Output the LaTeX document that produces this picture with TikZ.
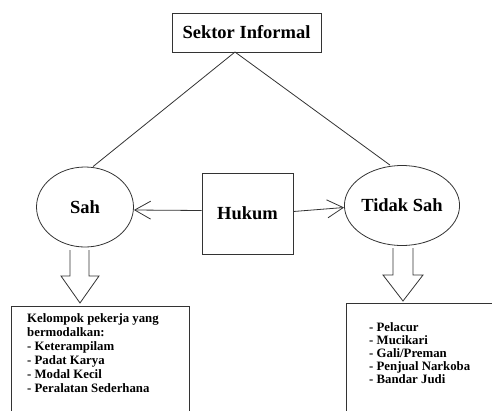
\documentclass[tikz,border=0pt]{standalone}
\usepackage{fontspec}
\setmainfont{Liberation Serif}
\usetikzlibrary{shapes.geometric,arrows.meta}
\begin{document}
\begin{tikzpicture}[x=1pt,y=-1pt,
  line/.style={draw=black!80,line width=0.8pt},
  boxnode/.style={line,rectangle,inner sep=0pt},
  ellnode/.style={line,ellipse,inner sep=0pt,minimum width=97pt,minimum height=80pt,font=\fontsize{18.5}{20}\selectfont\bfseries},
  bigtext/.style={font=\fontsize{18.5}{20}\selectfont\bfseries},
  listtext/.style={font=\fontsize{12.8}{14}\selectfont\bfseries,anchor=base west,inner sep=0pt},
  barb/.style={-{Straight Barb[length=16pt,width=18pt,line width=0.8pt]}}]
\useasboundingbox (0,0) rectangle (492,410);
% top box
\node[boxnode,minimum width=149pt,minimum height=39pt,bigtext] (sek) at (246.5,32.5) {Sektor Informal};
\coordinate (apex) at (235,52);
% ellipses
\node[ellnode] (sah) at (85,207) {Sah};
\node[ellnode] (tid) at (402,205.5) {Tidak Sah};
% Hukum box
\node[boxnode,minimum width=91pt,minimum height=81pt,bigtext] (huk) at (247.5,213.5) {Hukum};
% connectors
\draw[line] (apex) -- ([xshift=8pt]sah.north);
\draw[line] (apex) -- ([xshift=-12pt]tid.north);
\draw[line,barb] ([yshift=3pt]huk.west) -- ([yshift=-3pt]sah.east);
\draw[line,barb] ([yshift=2pt]huk.east) -- ([yshift=-2pt]tid.west);
% block arrows
\draw[line,line join=miter] (70,250) -- (70,276) -- (61,276) -- (80,303) -- (99,276) -- (89,276) -- (89,250);
\draw[line,line join=miter] (393,248) -- (393,275) -- (383,275) -- (403,301) -- (423,275) -- (413,275) -- (413,248);
% bottom boxes (cut off by the picture edge)
\draw[line] (11,411) -- (11,306) -- (189,306) -- (189,411);
\draw[line] (346,411) -- (346,303) -- (493,303);
% left list
\node[listtext] (l1) at (27,322) {Kelompok pekerja yang};
\node[listtext] (l2) at (27,336) {bermodalkan:};
\node[listtext] (l3) at (27,350) {- Keterampilam};
\node[listtext] (l4) at (27,364) {- Padat Karya};
\node[listtext] (l5) at (27,378) {- Modal Kecil};
\node[listtext] (l6) at (27,392) {- Peralatan Sederhana};
% right list
\node[listtext] (r1) at (369,331) {- Pelacur};
\node[listtext] (r2) at (369,344) {- Mucikari};
\node[listtext] (r3) at (369,357) {- Gali/Preman};
\node[listtext] (r4) at (369,370) {- Penjual Narkoba};
\node[listtext] (r5) at (369,383) {- Bandar Judi};
\end{tikzpicture}
\end{document}
